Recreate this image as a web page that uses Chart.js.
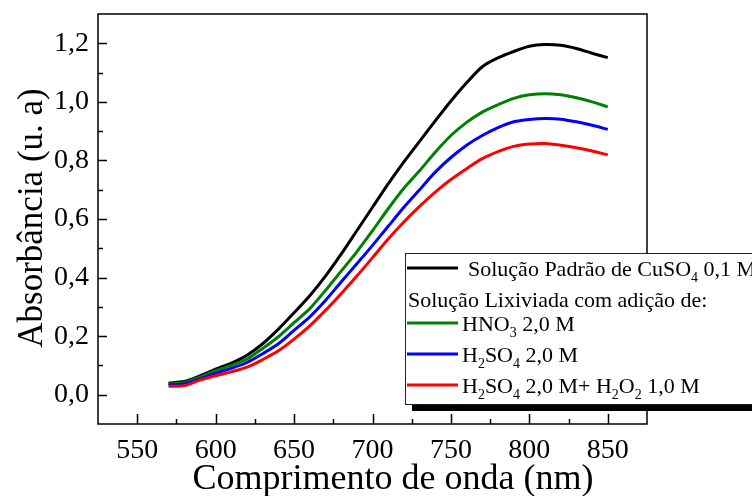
<!DOCTYPE html>
<html>
<head>
<meta charset="utf-8">
<script src="https://cdn.jsdelivr.net/npm/chart.js@4"></script>
<style>
  html, body { margin: 0; padding: 0; background: #fff; }
  #wrap { width: 752px; height: 496px; }
</style>
</head>
<body>
<div id="wrap"><canvas id="absChart" width="752" height="496"></canvas></div>
<script>
// Wavelength (nm) and absorbance
const wavelengths = [570, 580, 590, 600, 610, 620, 630, 640, 650, 660, 670, 680, 690, 700, 710,
  720, 730, 740, 750, 760, 770, 780, 790, 800, 810, 820, 830, 840, 850];
const padraoCuSO4 = [0.040, 0.045, 0.064, 0.087, 0.108, 0.135, 0.174, 0.224, 0.280, 0.338, 0.405, 0.480, 0.560, 0.640, 0.720,
  0.795, 0.865, 0.935, 1.003, 1.065, 1.120, 1.150, 1.172, 1.190, 1.196, 1.193, 1.182, 1.166, 1.151];
const hno3 = [0.036, 0.041, 0.060, 0.082, 0.100, 0.122, 0.158, 0.198, 0.246, 0.294, 0.356, 0.422, 0.488, 0.560, 0.635,
  0.705, 0.765, 0.828, 0.885, 0.930, 0.965, 0.990, 1.012, 1.024, 1.028, 1.024, 1.014, 1.000, 0.983];
const h2so4 = [0.033, 0.037, 0.054, 0.074, 0.090, 0.110, 0.140, 0.174, 0.220, 0.266, 0.322, 0.385, 0.447, 0.510, 0.575,
  0.640, 0.700, 0.760, 0.810, 0.852, 0.885, 0.912, 0.932, 0.940, 0.943, 0.941, 0.932, 0.920, 0.906];
const h2so4H2o2 = [0.029, 0.031, 0.050, 0.065, 0.078, 0.094, 0.120, 0.150, 0.190, 0.235, 0.288, 0.345, 0.405, 0.468, 0.532,
  0.590, 0.643, 0.692, 0.735, 0.772, 0.806, 0.830, 0.848, 0.856, 0.858, 0.852, 0.843, 0.832, 0.819];

const xMin = 525, xMax = 875, xStep = 25;
const yMin = -0.1, yMax = 1.3, yStep = 0.1;

const FONT = '"Liberation Serif", "Times New Roman", serif';

// Legend rows: [text, isSubscript] parts
const legendRows = [
  { color: '#000000', parts: [['Solução Padrão de CuSO', 0], ['4', 1], [' 0,1 M', 0]] },
  { color: null, parts: [['Solução Lixiviada com adição de:', 0]] },
  { color: '#008000', parts: [['HNO', 0], ['3', 1], [' 2,0 M', 0]] },
  { color: '#0000ff', parts: [['H', 0], ['2', 1], ['SO', 0], ['4', 1], [' 2,0 M', 0]] },
  { color: '#ff0000', parts: [['H', 0], ['2', 1], ['SO', 0], ['4', 1], [' 2,0 M+ H', 0], ['2', 1], ['O', 0], ['2', 1], [' 1,0 M', 0]] }
];

function toPoints(values) {
  return wavelengths.map((w, i) => ({ x: w, y: values[i] }));
}

function drawRich(ctx, parts, x, y) {
  let cx = x;
  parts.forEach(([text, sub]) => {
    ctx.font = sub ? '14px ' + FONT : '22px ' + FONT;
    ctx.fillText(text, cx, sub ? y + 6 : y);
    cx += ctx.measureText(text).width;
  });
}

// Frame, inward ticks, axis titles and the boxed legend
const decorPlugin = {
  id: 'decor',
  afterDraw(chart) {
    const ctx = chart.ctx;
    const a = chart.chartArea;
    const xs = chart.scales.x, ys = chart.scales.y;
    ctx.save();
    ctx.strokeStyle = '#000';
    ctx.lineWidth = 1.5;

    xs.ticks.forEach(t => {
      if (t.value <= xMin || t.value >= xMax) return;
      const px = Math.round(xs.getPixelForValue(t.value)) + 0.5;
      const len = t.value % 50 === 0 ? 10 : 5;
      ctx.beginPath();
      ctx.moveTo(px, a.bottom);
      ctx.lineTo(px, a.bottom - len);
      ctx.stroke();
    });
    ys.ticks.forEach(t => {
      const k = Math.round(t.value * 10);
      if (k <= -1 || k >= 13) return;
      const py = Math.round(ys.getPixelForValue(t.value)) + 0.5;
      const len = k % 2 === 0 ? 9 : 5;
      ctx.beginPath();
      ctx.moveTo(a.left, py);
      ctx.lineTo(a.left + len, py);
      ctx.stroke();
    });
    ctx.strokeRect(a.left, a.top, a.right - a.left, a.bottom - a.top);

    // axis titles
    ctx.fillStyle = '#000';
    ctx.font = '36px ' + FONT;
    ctx.textAlign = 'center';
    ctx.textBaseline = 'alphabetic';
    ctx.fillText('Comprimento de onda (nm)', 393, 489);
    ctx.save();
    ctx.translate(42, 218);
    ctx.rotate(-Math.PI / 2);
    ctx.font = '35px ' + FONT;
    ctx.fillText('Absorbância (u. a)', 0, 0);
    ctx.restore();

    // legend box with shadow
    ctx.fillStyle = '#000';
    ctx.fillRect(412, 404, 360, 7);
    ctx.fillStyle = '#fff';
    ctx.fillRect(405, 253, 360, 151);
    ctx.lineWidth = 1;
    ctx.strokeStyle = '#222';
    ctx.strokeRect(405.5, 253.5, 360, 151);

    const rowY = [268, 300, 323, 354, 385];
    ctx.textAlign = 'left';
    legendRows.forEach((row, i) => {
      ctx.fillStyle = '#000';
      if (row.color) {
        ctx.strokeStyle = row.color;
        ctx.lineWidth = 3;
        ctx.beginPath();
        ctx.moveTo(407, rowY[i]);
        ctx.lineTo(458, rowY[i]);
        ctx.stroke();
        drawRich(ctx, row.parts, i === 0 ? 468 : 462, rowY[i] + 8);
      } else {
        drawRich(ctx, row.parts, 408, rowY[i] + 7);
      }
    });
    ctx.restore();
  }
};

function makeDataset(label, values, color) {
  return {
    label: label,
    data: toPoints(values),
    borderColor: color,
    backgroundColor: color,
    borderWidth: 3,
    pointRadius: 0,
    tension: 0.3,
    fill: false
  };
}

new Chart(document.getElementById('absChart').getContext('2d'), {
  type: 'line',
  data: {
    datasets: [
      makeDataset('H2SO4 2,0 M+ H2O2 1,0 M', h2so4H2o2, '#ff0000'),
      makeDataset('H2SO4 2,0 M', h2so4, '#0000ff'),
      makeDataset('HNO3 2,0 M', hno3, '#008000'),
      makeDataset('Solução Padrão de CuSO4 0,1 M', padraoCuSO4, '#000000')
    ]
  },
  options: {
    responsive: false,
    animation: false,
    layout: { padding: { left: 0, top: 14, right: 105, bottom: 0 } },
    plugins: {
      legend: { display: false },
      tooltip: { enabled: false }
    },
    scales: {
      x: {
        type: 'linear',
        min: xMin,
        max: xMax,
        grid: { display: false, drawTicks: false },
        border: { display: false },
        afterFit: (s) => { s.height = 72; s.paddingLeft = 0; s.paddingRight = 0; },
        ticks: {
          stepSize: xStep,
          autoSkip: false,
          maxRotation: 0,
          padding: 10,
          color: '#000',
          font: { family: FONT, size: 28 },
          callback: (v) => (v % 50 === 0 ? String(v) : '')
        }
      },
      y: {
        min: yMin,
        max: yMax,
        grid: { display: false, drawTicks: false },
        border: { display: false },
        afterFit: (s) => { s.width = 98; s.paddingTop = 0; s.paddingBottom = 0; },
        ticks: {
          stepSize: yStep,
          autoSkip: false,
          padding: 9,
          color: '#000',
          font: { family: FONT, size: 28 },
          callback: (v) => {
            const k = Math.round(v * 10);
            return (k >= 0 && k % 2 === 0 && k <= 12) ? (k / 10).toFixed(1).replace('.', ',') : '';
          }
        }
      }
    }
  },
  plugins: [decorPlugin]
});
</script>
</body>
</html>
